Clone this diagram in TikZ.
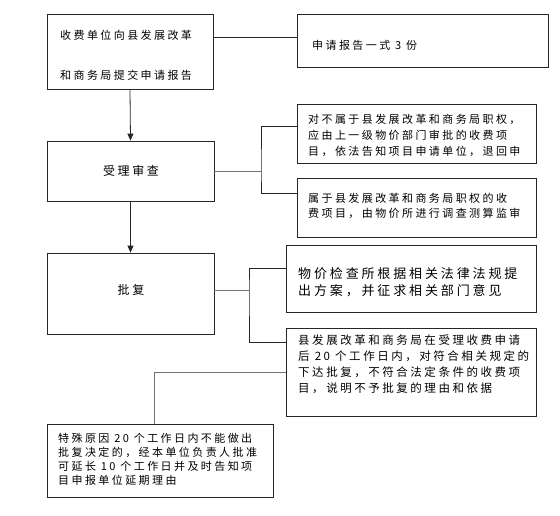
\documentclass[tikz,border=0pt]{standalone}
\usepackage{fontspec}
\newfontfamily\cjk[LetterSpace=22]{Noto Sans CJK SC}
\usetikzlibrary{arrows.meta}
\begin{document}
\begin{tikzpicture}[x=1pt,y=-1pt,
  box/.style={draw=black!85,line width=0.8pt,rectangle,inner sep=0pt},
  txt/.style={anchor=north west,align=left,inner sep=0pt,font=\cjk\fontsize{11}{16}\selectfont},
  ctxt/.style={anchor=center,inner sep=0pt,font=\cjk\fontsize{12}{16}\selectfont},
  link/.style={draw=black!85,line width=0.8pt},
  glink/.style={draw=black!55,line width=0.9pt},
  arr/.style={draw=black!85,line width=0.8pt,-{Triangle[length=7pt,width=6pt]}}
]
\useasboundingbox (0,0) rectangle (560,515);
% boxes
\node[box,minimum width=166pt,minimum height=75pt] (b1) at (130,51.5) {};
\node[box,minimum width=251pt,minimum height=53pt] (b2) at (422.5,40.5) {};
\node[box,minimum width=167pt,minimum height=60pt] (b3) at (130.5,171) {};
\node[box,minimum width=239pt,minimum height=59pt] (b4) at (416.5,133.5) {};
\node[box,minimum width=239pt,minimum height=59pt] (b5) at (416.5,207.5) {};
\node[box,minimum width=167pt,minimum height=81pt] (b6) at (130.5,293.5) {};
\node[box,minimum width=250pt,minimum height=67pt] (b7) at (411,278.5) {};
\node[box,minimum width=250pt,minimum height=88pt] (b8) at (411,372) {};
\node[box,minimum width=226pt,minimum height=73pt] (b9) at (160,460.5) {};
% texts
\node[txt,font=\cjk\fontsize{11}{40}\selectfont] (t1) at (60,30) {收费单位向县发展改革\\和商务局提交申请报告};
\node[txt] (t2) at (312,40) {申请报告一式 3 份};
\node[ctxt] (t3) at (131,171) {受理审查};
\node[txt] (t4) at (308,114) {对不属于县发展改革和商务局职权，\\应由上一级物价部门审批的收费项\\目，依法告知项目申请单位，退回申};
\node[txt,font=\cjk\fontsize{11}{15}\selectfont] (t5) at (308,193) {属于县发展改革和商务局职权的收\\费项目，由物价所进行调查测算监审};
\node[ctxt] (t6) at (131,290) {批复};
\node[txt,font=\cjk\fontsize{13}{17}\selectfont] (t7) at (298,267) {物价检查所根据相关法律法规提\\出方案，并征求相关部门意见};
\node[txt,font=\cjk\fontsize{11.5}{16}\selectfont] (t8) at (298,335) {县发展改革和商务局在受理收费申请\\后 20 个工作日内，对符合相关规定的\\下达批复，不符合法定条件的收费项\\目，说明不予批复的理由和依据};
\node[txt,font=\cjk\fontsize{11}{14}\selectfont] (t9) at (58,433) {特殊原因 20 个工作日内不能做出\\批复决定的，经本单位负责人批准\\可延长 10 个工作日并及时告知项\\目申报单位延期理由};
% junctions
\coordinate (j1) at (261,171);
\coordinate (j2) at (249,290);
% connectors
\draw[link] ([yshift=3.5pt]b2.west -| b1.east) -- ([yshift=3.5pt]b2.west);
\draw[arr] (b1.south) -- (b3.north);
\draw[arr] (b3.south) -- (b6.north);
\draw[glink] (b3.east) -- (j1);
\draw[link] ([yshift=7.5pt]b4.west) -| (j1) |- ([yshift=14.5pt]b5.west);
\draw[glink] ([yshift=3.5pt]b6.east) -- (j2);
\draw[link] ([yshift=10.5pt]b7.west) -| (j2) |- ([yshift=30pt]b8.west);
\draw[glink] (b8.west) -| ([xshift=-6pt]b9.north);
\end{tikzpicture}
\end{document}
